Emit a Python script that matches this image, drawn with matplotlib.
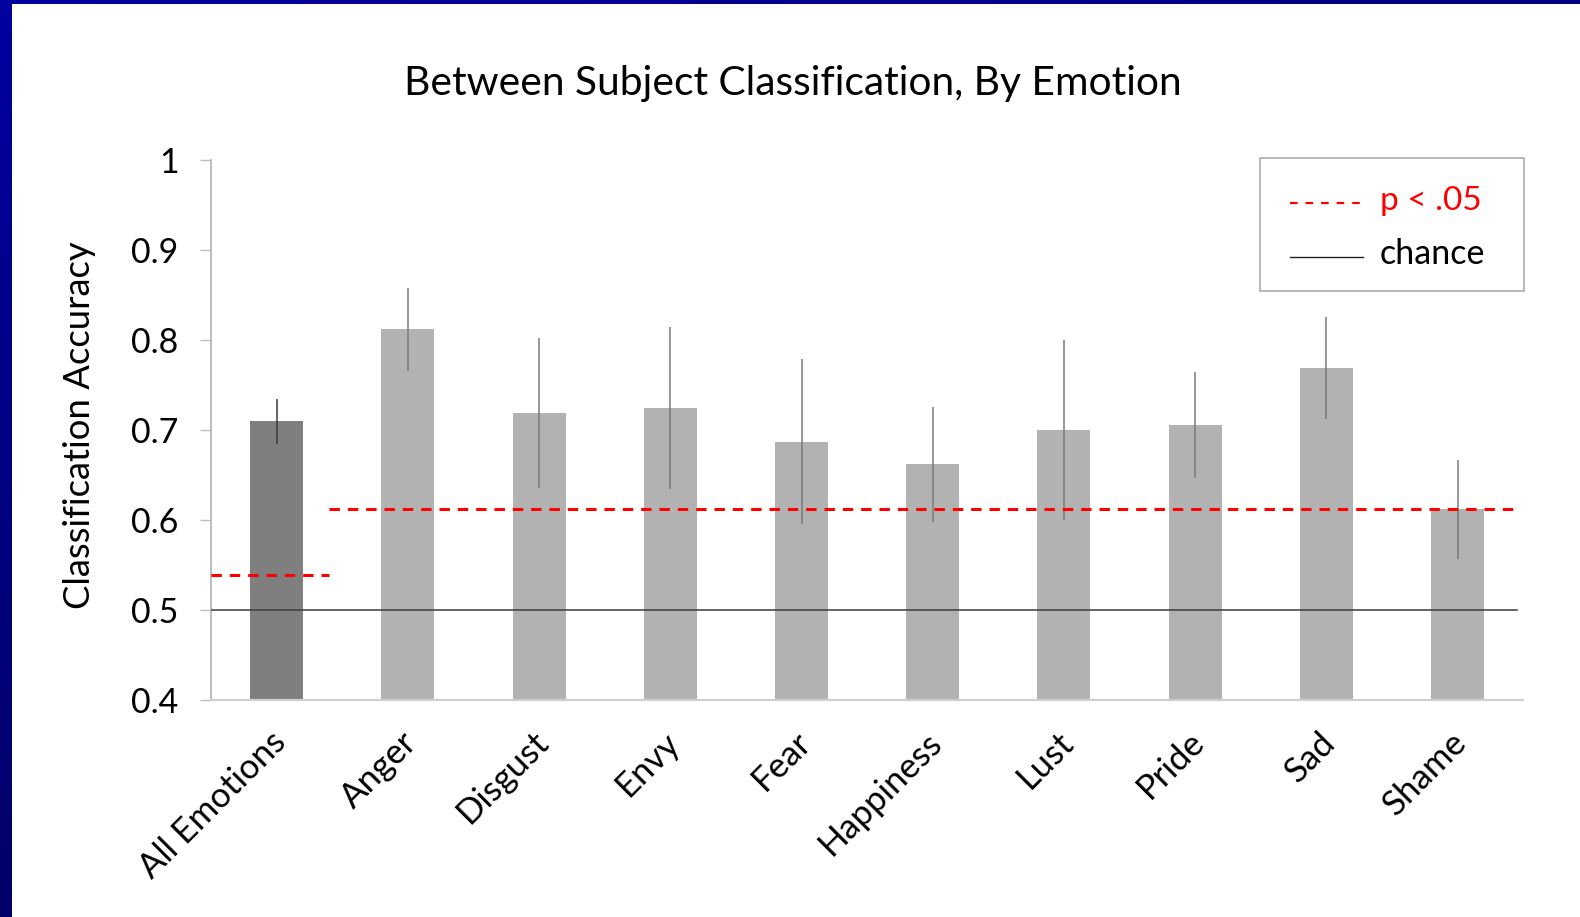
import numpy as np
import matplotlib
matplotlib.use("Agg")
import matplotlib.pyplot as plt
import matplotlib.transforms as mtransforms
from matplotlib.patches import Rectangle
from matplotlib.lines import Line2D

plt.rcParams['font.family'] = ['Lato', 'DejaVu Sans']

# ---- data ----
categories = ["All Emotions", "Anger", "Disgust", "Envy", "Fear",
              "Happiness", "Lust", "Pride", "Sad", "Shame"]
accuracy = [0.710, 0.812, 0.719, 0.725, 0.687, 0.662, 0.700, 0.706, 0.769, 0.612]
errors = [0.025, 0.046, 0.083, 0.090, 0.092, 0.064, 0.100, 0.059, 0.057, 0.055]
chance_level = 0.5
sig_all = 0.539      # p < .05 threshold, all emotions pooled
sig_single = 0.612   # p < .05 threshold, single emotion
yticks = [0.4, 0.5, 0.6, 0.7, 0.8, 0.9, 1.0]
ytick_labels = ["0.4", "0.5", "0.6", "0.7", "0.8", "0.9", "1"]

W, H = 1580, 917
fig = plt.figure(figsize=(W / 100, H / 100), dpi=100)
fig.patch.set_facecolor('white')

def px(x, y):
    """pixel (from top-left) -> figure fraction"""
    return x / W, 1 - y / H

# slide frame: blue strips on left and top
bax = fig.add_axes([0, 0, 12 / W, 1])
grad = np.linspace(0, 1, 256)[:, None]
top_c = np.array([0x00, 0x00, 0xA0]) / 255
bot_c = np.array([0x00, 0x00, 0x68]) / 255
img = top_c[None, None, :] * (1 - grad[:, :, None]) + bot_c[None, None, :] * grad[:, :, None]
bax.imshow(img, aspect='auto', extent=[0, 1, 0, 1])
bax.axis('off')
tax = fig.add_axes([0, 1 - 4 / H, 1, 4 / H])
hgrad = np.linspace(0, 1, 256)[None, :, None]
c1 = np.array([0x00, 0x00, 0xA0]) / 255
c2 = np.array([0x00, 0x00, 0x80]) / 255
tax.imshow(c1 * (1 - hgrad) + c2 * hgrad, aspect='auto', extent=[0, 1, 0, 1])
tax.axis('off')

# ---- main axes ----
ax_left, ax_right, ax_top, ax_bottom = 211.1, 1523.1, 160, 700
ax = fig.add_axes([ax_left / W, 1 - ax_bottom / H,
                   (ax_right - ax_left) / W, (ax_bottom - ax_top) / H])

x = np.arange(len(categories))
bar_colors = ['#7F7F7F'] + ['#B2B2B2'] * (len(categories) - 1)
err_colors = ['#3A3A3A'] + ['#7A7A7A'] * (len(categories) - 1)
ax.bar(x, np.array(accuracy) - 0.4, bottom=0.4, width=0.404,
       color=bar_colors, zorder=2)
for xi, yi, ei, ec in zip(x, accuracy, errors, err_colors):
    ax.vlines(xi, yi - ei, yi + ei, color=ec, lw=1.1, zorder=4)

# reference lines
ax.plot([-0.5, 9.45], [chance_level, chance_level], color='#3C3C3C', lw=1.1, zorder=3)
dash = (0, (3.4, 2.6))
ax.plot([-0.5, 0.4], [sig_all, sig_all], color='#FF0000', lw=2.2, ls=dash, zorder=5)
ax.plot([0.4, 9.44], [sig_single, sig_single], color='#FF0000', lw=2.2, ls=dash, zorder=5)

ax.set_xlim(-0.5, len(categories) - 0.5)
ax.set_ylim(0.4, 1.0)
ax.set_yticks(yticks, ytick_labels)
ax.set_xticks(x, categories, rotation=45, ha='right', va='top',
              rotation_mode='anchor')
ax.tick_params(axis='y', direction='out', length=8, width=1.0, color='#BFBFBF',
               pad=15.5, labelsize=24.5, labelcolor='black')
ax.tick_params(axis='x', length=0, pad=18.5, labelsize=25, labelcolor='black')
shift = mtransforms.ScaledTranslation(-7 / 100, 0, fig.dpi_scale_trans)
for lab in ax.get_xticklabels():
    lab.set_transform(lab.get_transform() + shift)
for side in ['top', 'right']:
    ax.spines[side].set_visible(False)
ax.spines['left'].set_color('#B8B8B8')
ax.spines['left'].set_linewidth(1.3)
ax.spines['bottom'].set_color('#CFCFCF')
ax.spines['bottom'].set_linewidth(1.6)
ax.set_facecolor('none')

ax.set_ylabel("Classification Accuracy", fontsize=26.3, va='center')
ax.yaxis.set_label_coords((80 - ax_left) / (ax_right - ax_left),
                          (ax_bottom - 425) / (ax_bottom - ax_top))

fig.text(*px(793, 83), "Between Subject Classification, By Emotion",
         ha='center', va='center', fontsize=29.3)

# ---- legend box ----
fig.add_artist(Rectangle(px(1260, 291), (1524 - 1260) / W, (291 - 158) / H,
                         transform=fig.transFigure, facecolor='white',
                         edgecolor='#A6A6A6', lw=1.1, zorder=6))
x0, y0 = px(1290, 203)
x1, _ = px(1363, 203)
fig.add_artist(Line2D([x0, x1], [y0, y0], transform=fig.transFigure,
                      color='#FF0000', lw=1.6, ls=(0, (3.4, 3.6)), zorder=7))
x0, y1 = px(1290, 257)
fig.add_artist(Line2D([x0, x1], [y1, y1], transform=fig.transFigure,
                      color='#202020', lw=1.0, zorder=7))
fig.text(*px(1380, 210), "p < .05", color='#FF0000', fontsize=24,
         ha='left', va='baseline', zorder=8)
fig.text(*px(1380, 264), "chance", color='black', fontsize=24.5,
         ha='left', va='baseline', zorder=8)

fig.savefig("out.png", dpi=100)
